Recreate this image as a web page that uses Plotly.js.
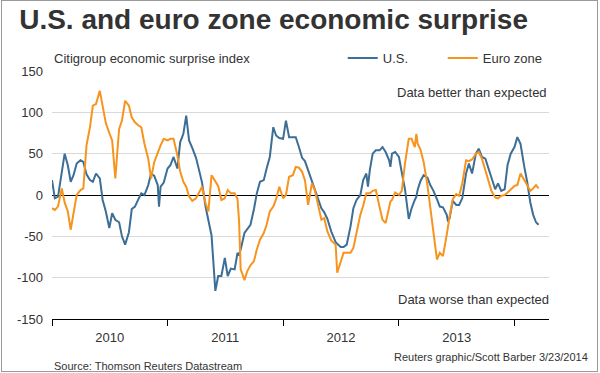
<!DOCTYPE html>
<html>
<head>
<meta charset="utf-8">
<script src="https://cdn.plot.ly/plotly-3.0.1.min.js"></script>
<style>
  html, body { margin: 0; padding: 0; background: #fff; }
  #wrap { position: relative; width: 600px; height: 373px; }
  #chart { width: 600px; height: 373px; }
  #frame { position: absolute; left: 1px; top: 0px; width: 595px; height: 370px; border: 1px solid #9a9a9a; pointer-events: none; }
</style>
</head>
<body>
<div id="wrap"><div id="chart"></div><div id="frame"></div></div>
<script>
// Dates (shared by both series)
const dates = [
  // 2010
  '2010-01-01','2010-01-10','2010-01-20','2010-02-01','2010-02-10','2010-02-20','2010-03-01','2010-03-10','2010-03-20',
  '2010-04-01','2010-04-10','2010-04-20','2010-05-01','2010-05-10','2010-05-20','2010-06-01','2010-06-10','2010-06-20',
  '2010-07-01','2010-07-10','2010-07-20','2010-08-01','2010-08-10','2010-08-20','2010-09-01','2010-09-10','2010-09-20',
  '2010-10-01','2010-10-10','2010-10-20','2010-11-01','2010-11-10','2010-11-20','2010-12-01','2010-12-05','2010-12-10','2010-12-20',
  // 2011
  '2011-01-01','2011-01-10','2011-01-20','2011-02-01','2011-02-10','2011-02-20','2011-03-01','2011-03-10','2011-03-20',
  '2011-04-01','2011-04-10','2011-04-20','2011-05-01','2011-05-10','2011-05-20','2011-06-01','2011-06-10','2011-06-20',
  '2011-07-01','2011-07-10','2011-07-20','2011-08-01','2011-08-10','2011-08-15','2011-08-20','2011-09-01','2011-09-10','2011-09-20',
  '2011-10-01','2011-10-10','2011-10-20','2011-11-01','2011-11-10','2011-11-20','2011-12-01','2011-12-10','2011-12-20',
  // 2012
  '2012-01-01','2012-01-10','2012-01-20','2012-02-01','2012-02-10','2012-02-20','2012-03-01','2012-03-10','2012-03-20',
  '2012-04-01','2012-04-10','2012-04-20','2012-05-01','2012-05-10','2012-05-20','2012-06-01','2012-06-10','2012-06-15','2012-06-20',
  '2012-07-01','2012-07-10','2012-07-20','2012-08-01','2012-08-10','2012-08-20','2012-09-01','2012-09-10','2012-09-20','2012-09-25',
  '2012-10-01','2012-10-10','2012-10-20','2012-11-01','2012-11-10','2012-11-20','2012-12-01','2012-12-05','2012-12-10','2012-12-20',
  // 2013
  '2013-01-01','2013-01-10','2013-01-20','2013-02-01','2013-02-10','2013-02-20','2013-02-25','2013-03-01','2013-03-10','2013-03-20',
  '2013-04-01','2013-04-10','2013-04-20','2013-05-01','2013-05-10','2013-05-20','2013-06-01','2013-06-05','2013-06-10','2013-06-20',
  '2013-07-01','2013-07-10','2013-07-20','2013-08-01','2013-08-10','2013-08-20','2013-09-01','2013-09-10','2013-09-20',
  '2013-10-01','2013-10-10','2013-10-20','2013-11-01','2013-11-10','2013-11-20','2013-12-01','2013-12-10','2013-12-20',
  // 2014
  '2014-01-01','2014-01-10','2014-01-20','2014-02-01','2014-02-10','2014-02-20','2014-03-01','2014-03-10','2014-03-18'
];

// Citigroup economic surprise index, U.S.
const usValues = [
  // 2010
  18, -4, -2, 28, 50, 36, 16, 24, 38,
  42, 40, 25, 18, 16, 26, 20, -6, -20,
  -40, -22, -30, -33, -50, -60, -45, -17, -14,
  -5, 2, 0, 12, 26, 23, 12, -14, 10, 15,
  // 2011
  32, 36, 46, 32, 64, 74, 96, 66, 57,
  45, 31, 15, -14, -31, -49, -116, -98, -98,
  -76, -98, -89, -90, -70, -72, -66, -46, -41, -36,
  -17, 2, 16, 18, 32, 46, 82, 72, 69,
  // 2012
  68, 90, 70, 70, 70, 58, 45, 41, 30,
  19, 9, -3, -16, -21, -29, -44, -53, -57, -59,
  -63, -63, -60, -38, -16, -6, 0, 18, 26, 10,
  30, 50, 54, 54, 58, 52, 42, 34, 50, 52,
  // 2013
  46, 27, 7, -29, -16, -6, -2, 6, 17, 24,
  21, 12, 5, -5, -14, -15, -24, -32, -28, -7,
  -12, -12, -4, 26, 38, 26, 50, 56, 46,
  44, 33, 20, 7, 14, 5, 7, 36, 50,
  // 2014
  58, 70, 62, 34, 16, -9, -24, -33, -36
];

// Citigroup economic surprise index, Euro zone
const euroValues = [
  // 2010
  -16, -18, -14, 8, -9, -20, -42, -24, 0,
  6, 8, 60, 82, 108, 110, 126, 106, 87,
  75, 66, 20, 80, 90, 114, 108, 94, 88,
  84, 82, 62, 44, 20, 40, 52, 55, 60, 68,
  // 2011
  66, 68, 68, 48, 28, 16, 10, -2, -7,
  -4, 3, 10, -10, -20, 24, 17, 11, -6,
  -4, 6, 2, 2, -5, -32, -90, -103, -92, -85,
  -80, -66, -54, -46, -36, -20, -14, -5, 10,
  // 2012
  -4, 0, 22, 24, 34, 33, 28, 18, -12,
  14, 6, -12, -30, -28, -44, -55, -59, -60, -94,
  -82, -70, -70, -70, -64, -44, -24, -13, 2, 2,
  2, 5, 6, -15, -30, -34, -16, -8, -6, 3,
  // 2013
  0, 5, 38, 68, 68, 58, 74, 62, 55, 40,
  12, -14, -48, -78, -70, -74, -48, -36, -26, -5,
  1, -1, 14, 42, 41, 43, 50, 52, 44,
  30, 18, 5, -3, -4, -1, 0, 3, 7,
  // 2014
  11, 12, 26, 18, 12, 5, 8, 12, 8
];

const seriesNames = ['U.S.', 'Euro zone'];
const yTickVals = [-150, -100, -50, 0, 50, 100, 150];
const yTickText = ['-150', '-100', '-50', '0', '50', '100', '150'];

const FONT = '"Liberation Sans", Arial, sans-serif';
const TXT = '#333333';

const traces = [
  { x: dates, y: usValues, name: seriesNames[0], type: 'scatter', mode: 'lines',
    line: { color: '#3d6e96', width: 2 } },
  { x: dates, y: euroValues, name: seriesNames[1], type: 'scatter', mode: 'lines',
    line: { color: '#f7941d', width: 2 } }
];

const layout = {
  width: 600, height: 373,
  margin: { l: 52, r: 51, t: 71, b: 54 },
  paper_bgcolor: '#ffffff', plot_bgcolor: '#ffffff',
  font: { family: FONT, size: 13, color: TXT },
  title: {
    text: 'U.S. and euro zone economic surprise',
    font: { family: FONT, size: 28, color: '#333333', weight: 700 },
    x: 0.032, xref: 'container', xanchor: 'left',
    y: 0.949, yref: 'container', yanchor: 'middle'
  },
  showlegend: true,
  legend: {
    orientation: 'h', x: 0.585, xanchor: 'left', y: 1.052, yanchor: 'middle',
    font: { family: FONT, size: 13, color: TXT }, bgcolor: 'rgba(0,0,0,0)',
    entrywidth: 55, entrywidthmode: 'pixels', itemwidth: 30
  },
  xaxis: {
    type: 'date', range: ['2010-01-01', '2014-04-20'],
    showgrid: false, zeroline: false,
    showline: true, linecolor: '#000000', linewidth: 1,
    ticks: 'outside', ticklen: 6, tickcolor: '#000000', tickwidth: 1,
    dtick: 'M12', tick0: '2010-01-01', ticklabelmode: 'period', tickformat: '%Y',
    tickfont: { family: FONT, size: 13, color: TXT }
  },
  yaxis: {
    range: [-150, 150], tickvals: yTickVals, ticktext: yTickText,
    showgrid: true, gridcolor: '#d9d9d9', gridwidth: 1,
    zeroline: true, zerolinecolor: '#000000', zerolinewidth: 1,
    showline: false, ticks: '', ticklabelstandoff: 8,
    tickfont: { family: FONT, size: 13, color: TXT }
  },
  annotations: [
    { text: 'Citigroup economic surprise index', xref: 'paper', yref: 'paper',
      x: 0.0, y: 1.052, xanchor: 'left', yanchor: 'middle', showarrow: false,
      font: { family: FONT, size: 13, color: TXT } },
    { text: 'Data better than expected', xref: 'paper', yref: 'y',
      x: 1.0, y: 124, xanchor: 'right', yanchor: 'middle', showarrow: false,
      font: { family: FONT, size: 13, color: TXT } },
    { text: 'Data worse than expected', xref: 'paper', yref: 'y',
      x: 1.004, y: -127, xanchor: 'right', yanchor: 'middle', showarrow: false,
      font: { family: FONT, size: 13, color: TXT } },
    { text: 'Source: Thomson Reuters Datastream', xref: 'paper', yref: 'paper',
      x: 0, y: -0.19, xanchor: 'left', yanchor: 'middle', showarrow: false,
      font: { family: FONT, size: 11, color: TXT } },
    { text: 'Reuters graphic/Scott Barber 3/23/2014', xref: 'paper', yref: 'paper',
      x: 1.0825, y: -0.153, xanchor: 'right', yanchor: 'middle', showarrow: false,
      font: { family: FONT, size: 11, color: TXT } }
  ]
};

Plotly.newPlot('chart', traces, layout, { staticPlot: true, displayModeBar: false });
</script>
</body>
</html>
